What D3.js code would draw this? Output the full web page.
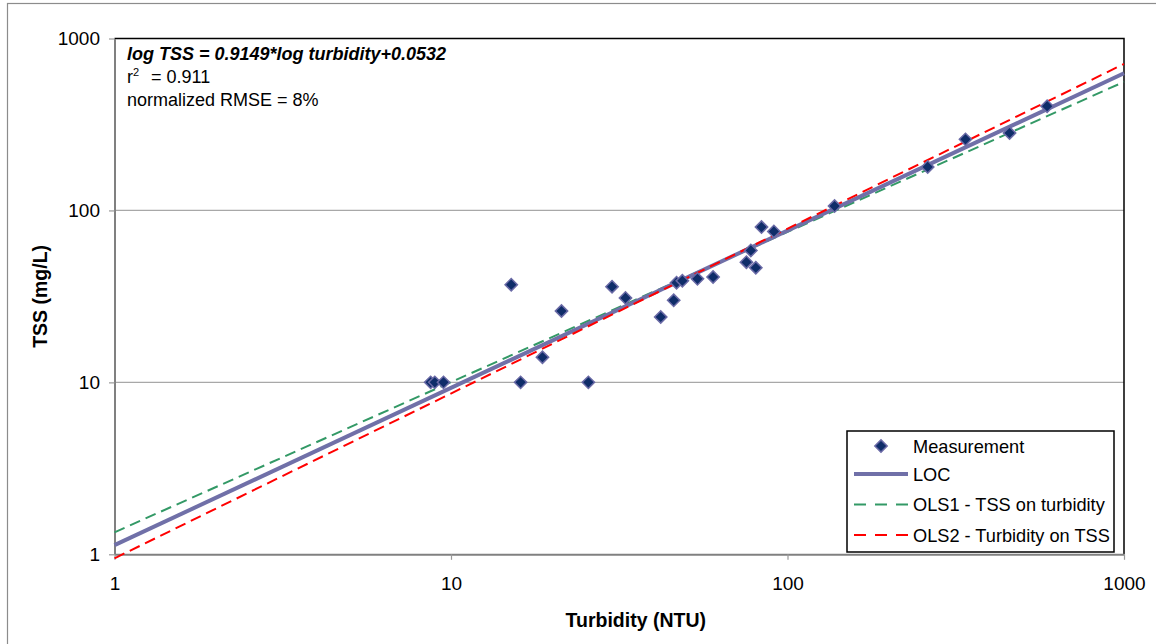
<!DOCTYPE html>
<html>
<head>
<meta charset="utf-8">
<script src="https://cdn.jsdelivr.net/npm/d3@7"></script>
<style>
  html, body { margin: 0; padding: 0; background: #fff; }
  svg { display: block; font-family: "Liberation Sans", Arial, sans-serif; }
</style>
</head>
<body>
<svg id="chart" width="1156" height="644"></svg>
<script>
// Paired turbidity / TSS samples
const turbidity = [8.7, 8.95, 9.5, 15.1, 16.1, 18.7, 21.3, 25.6, 30.1, 33.0, 42.0, 45.9, 46.8, 48.7,
                   54.0, 60.1, 75.5, 77.8, 80.5, 83.7, 91.1, 138, 261, 338, 457, 591];
const tss       = [10, 10, 10, 37, 10, 14, 26, 10, 36, 31, 24, 30, 38, 39,
                   40, 41, 50, 58.5, 46.4, 80, 75.5, 106, 179, 259, 282, 404];

// Fitted lines in log space: log TSS = slope * log turbidity + intercept
const fitNames      = ["LOC", "OLS1 - TSS on turbidity", "OLS2 - Turbidity on TSS"];
const fitSlopes     = [0.9149, 0.8733, 0.9585];
const fitIntercepts = [0.0532, 0.128, -0.0233];

const tickValues = [1, 10, 100, 1000];
const annotation = ["log TSS = 0.9149*log turbidity+0.0532", "0.911", "normalized RMSE = 8%"];

const svg = d3.select("#chart");
const font = '"Liberation Sans", Arial, sans-serif';

// Chart frame
svg.append("rect").attr("x", 7.5).attr("y", 3.5).attr("width", 1200).attr("height", 700)
  .attr("fill", "#fff").attr("stroke", "#8c8c8c").attr("stroke-width", 1.2);

const plot = { left: 114.5, right: 1124, top: 38.5, bottom: 554.3 };
const x = d3.scaleLog().domain([1, 1000]).range([plot.left, plot.right]);
const y = d3.scaleLog().domain([1, 1000]).range([plot.bottom, plot.top]);

// Horizontal gridlines
svg.append("g").selectAll("line").data(tickValues.slice(1, -1)).join("line")
  .attr("x1", plot.left).attr("x2", plot.right)
  .attr("y1", d => y(d)).attr("y2", d => y(d))
  .attr("stroke", "#a8a8a8").attr("stroke-width", 1.2);

// Top and right plot border
svg.append("path")
  .attr("d", `M${plot.left},${plot.top}H${plot.right}V${plot.bottom}`)
  .attr("fill", "none").attr("stroke", "#000").attr("stroke-width", 1.5);

// Axes
const yAxis = d3.axisLeft(y).tickValues(tickValues).tickFormat(d3.format("d"))
  .tickSizeInner(5.5).tickSizeOuter(0).tickPadding(9);
const xAxis = d3.axisBottom(x).tickValues(tickValues).tickFormat(d3.format("d"))
  .tickSizeInner(5.5).tickSizeOuter(0).tickPadding(17);

const gy = svg.append("g").attr("transform", `translate(${plot.left},0)`).call(yAxis);
const gx = svg.append("g").attr("transform", `translate(0,${plot.bottom})`).call(xAxis);
[gy, gx].forEach(g => {
  g.select(".domain").attr("stroke", "#808080").attr("stroke-width", 2);
  g.selectAll(".tick line").attr("stroke", "#999").attr("stroke-width", 1.2);
  g.selectAll(".tick text").attr("fill", "#000").style("font-family", font).style("font-size", "19px");
});

// Axis titles
svg.append("text").attr("x", x(Math.sqrt(1000) * 1.12)).attr("y", 627)
  .attr("text-anchor", "middle").style("font-size", "19.5px").style("font-weight", "bold")
  .text("Turbidity (NTU)");
svg.append("text").attr("transform", `translate(47,${(plot.top + plot.bottom) / 2}) rotate(-90)`)
  .attr("text-anchor", "middle").style("font-size", "19.5px").style("font-weight", "bold")
  .text("TSS (mg/L)");

// Fit lines
const fitStyles = [
  { stroke: "#7070a8", width: 4, dash: null },
  { stroke: "#339966", width: 2, dash: "11,6" },
  { stroke: "#ff0000", width: 2, dash: "11,6" }
];
const line = d3.line().x(d => x(d[0])).y(d => y(d[1]));
const drawOrder = [1, 0, 2];
drawOrder.forEach(i => {
  const dom = x.domain();
  const pts = dom.map(t => [t, Math.pow(10, fitSlopes[i] * Math.log10(t) + fitIntercepts[i])]);
  svg.append("path").attr("d", line(pts)).attr("fill", "none")
    .attr("stroke", fitStyles[i].stroke).attr("stroke-width", fitStyles[i].width)
    .attr("stroke-dasharray", fitStyles[i].dash);
});

// Measurements
const diamond = d3.symbol(d3.symbolSquare, 76)();
const samples = turbidity.map((t, i) => [t, tss[i]]);
svg.append("g").selectAll("path").data(samples).join("path")
  .attr("d", diamond)
  .attr("transform", d => `translate(${x(d[0])},${y(d[1])}) rotate(45)`)
  .attr("fill", "#0f2d69").attr("stroke", "#6a6aa6").attr("stroke-width", 1.5);

// Regression annotation
const ann = svg.append("g").style("font-size", "18px");
ann.append("text").attr("x", 127).attr("y", 60)
  .style("font-weight", "bold").style("font-style", "italic").text(annotation[0]);
const r2 = ann.append("text").attr("x", 127).attr("y", 83);
r2.append("tspan").text("r");
r2.append("tspan").attr("dy", -7).style("font-size", "11px").text("2");
r2.append("tspan").attr("x", 151).attr("dy", 7).text("= " + annotation[1]);
ann.append("text").attr("x", 127).attr("y", 106).text(annotation[2]);

// Legend
const lg = svg.append("g");
lg.append("rect").attr("x", 847).attr("y", 431).attr("width", 267).attr("height", 121)
  .attr("fill", "#fff").attr("stroke", "#000").attr("stroke-width", 1.5);
const rowY = [446, 474, 504.5, 535];
const legendLabels = ["Measurement"].concat(fitNames);
lg.append("path").attr("d", diamond)
  .attr("transform", `translate(881,${rowY[0]}) rotate(45)`)
  .attr("fill", "#0f2d69").attr("stroke", "#6a6aa6").attr("stroke-width", 1.5);
[0, 1, 2].forEach(i => {
  lg.append("line").attr("x1", 854).attr("x2", 908).attr("y1", rowY[i + 1]).attr("y2", rowY[i + 1])
    .attr("stroke", fitStyles[i].stroke).attr("stroke-width", fitStyles[i].width)
    .attr("stroke-dasharray", fitStyles[i].dash ? "12,9" : null);
});
lg.selectAll("text").data(legendLabels).join("text")
  .attr("x", 913).attr("y", (d, i) => rowY[i] + 6.5)
  .style("font-size", "18.2px").text(d => d);
</script>
</body>
</html>
